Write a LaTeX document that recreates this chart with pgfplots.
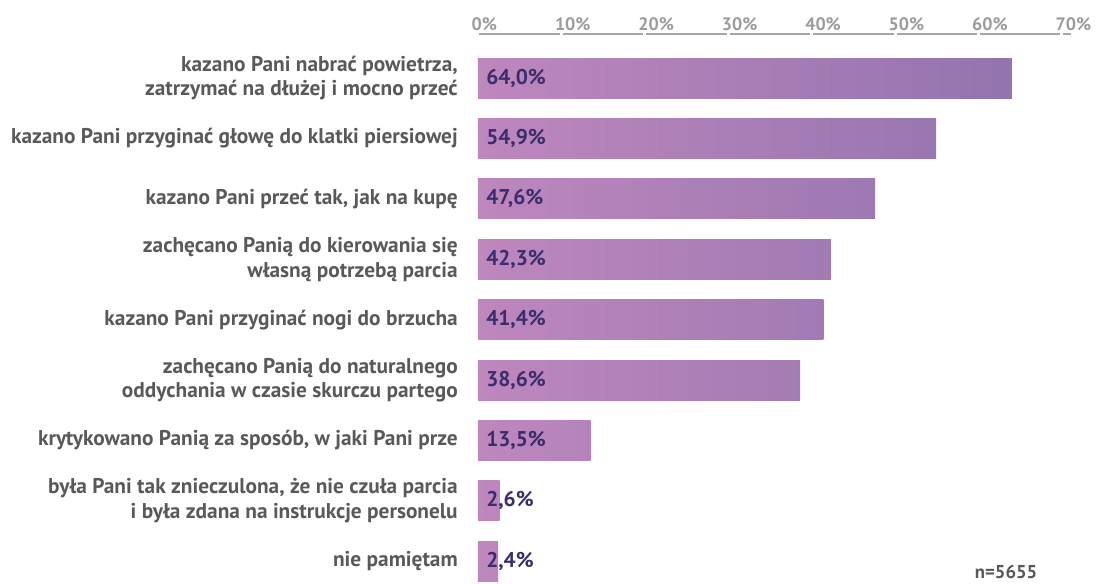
\documentclass[border=0pt]{standalone}
\usepackage{pgfplots}
\pgfplotsset{compat=1.18}
\usepackage{fontspec}
\setmainfont{PT Sans}
\definecolor{barL}{RGB}{190,135,190}
\definecolor{barR}{RGB}{143,114,172}
\definecolor{valc}{RGB}{59,45,107}
\definecolor{catc}{RGB}{89,89,89}
\definecolor{tickc}{RGB}{155,155,155}
\definecolor{axc}{RGB}{166,166,166}
\begin{document}
\begin{tikzpicture}[x=1pt,y=1pt]
\useasboundingbox (0pt,0pt) rectangle (822.75pt,437.25pt);
\begin{axis}[
  at={(358.5pt,-4.125pt)}, anchor=south west,
  scale only axis, width=438pt, height=415.9pt,
  xmin=0, xmax=70, ymin=-0.45, ymax=8.73,
  axis x line*=top, axis y line*=left,
  x axis line style={-, draw=axc, line width=1.5pt, shorten >=-7pt,
     dash pattern=on 60.32pt off 2.25pt, dash phase=61.446pt},
  y axis line style={draw=none},
  xtick={0,10,...,70},
  xticklabel={\textbf{\pgfmathprintnumber{\tick}\%}},
  /pgf/number format/assume math mode=true,
  xtick style={draw=none}, ytick style={draw=none},
  xticklabel style={font=\fontsize{13.5}{15}\selectfont\bfseries, text=tickc, anchor=base west, xshift=-5pt, yshift=2.5pt, inner sep=0pt},
  ytick={0,...,8},
  yticklabels={
    {nie pamiętam},
    {była Pani tak znieczulona, że nie czuła parcia\\i była zdana na instrukcje personelu},
    {krytykowano Panią za sposób, w jaki Pani prze},
    {zachęcano Panią do naturalnego\\oddychania w czasie skurczu partego},
    {kazano Pani przyginać nogi do brzucha},
    {zachęcano Panią do kierowania się\\własną potrzebą parcia},
    {kazano Pani przeć tak, jak na kupę},
    {kazano Pani przyginać głowę do klatki piersiowej},
    {kazano Pani nabrać powietrza,\\zatrzymać na dłużej i mocno przeć}},
  yticklabel style={font=\fontsize{16}{18.5}\selectfont\bfseries, text=catc, align=right, anchor=east, inner sep=0pt, xshift=-15pt},
  clip=false,
]
\addplot[xbar, bar width=30pt, bar shift=0pt, draw=none, left color=barL, right color=barR!91!barL] coordinates {(64.0,8)};
\addplot[xbar, bar width=30pt, bar shift=0pt, draw=none, left color=barL, right color=barR!78!barL] coordinates {(54.9,7)};
\addplot[xbar, bar width=30pt, bar shift=0pt, draw=none, left color=barL, right color=barR!68!barL] coordinates {(47.6,6)};
\addplot[xbar, bar width=30pt, bar shift=0pt, draw=none, left color=barL, right color=barR!60!barL] coordinates {(42.3,5)};
\addplot[xbar, bar width=30pt, bar shift=0pt, draw=none, left color=barL, right color=barR!59!barL] coordinates {(41.4,4)};
\addplot[xbar, bar width=30pt, bar shift=0pt, draw=none, left color=barL, right color=barR!55!barL] coordinates {(38.6,3)};
\addplot[xbar, bar width=30pt, bar shift=0pt, draw=none, left color=barL, right color=barR!19!barL] coordinates {(13.5,2)};
\addplot[xbar, bar width=30pt, bar shift=0pt, draw=none, left color=barL, right color=barR!4!barL] coordinates {(2.6,1)};
\addplot[xbar, bar width=30pt, bar shift=0pt, draw=none, left color=barL, right color=barR!3!barL] coordinates {(2.4,0)};
\addplot[only marks, mark=none, nodes near coords, point meta=explicit symbolic,
  every node near coord/.append style={anchor=west, inner sep=0pt, xshift=6pt, font=\fontsize{16}{18}\selectfont\bfseries, text=valc}]
  coordinates {(0,8) [64,0\%] (0,7) [54,9\%] (0,6) [47,6\%] (0,5) [42,3\%] (0,4) [41,4\%] (0,3) [38,6\%] (0,2) [13,5\%] (0,1) [2,6\%] (0,0) [2,4\%]};
\end{axis}
\node[anchor=base west, inner sep=0pt, text=catc, font=\fontsize{14}{16}\selectfont\bfseries] at (731pt,3.75pt) {n=5655};
\end{tikzpicture}
\end{document}
